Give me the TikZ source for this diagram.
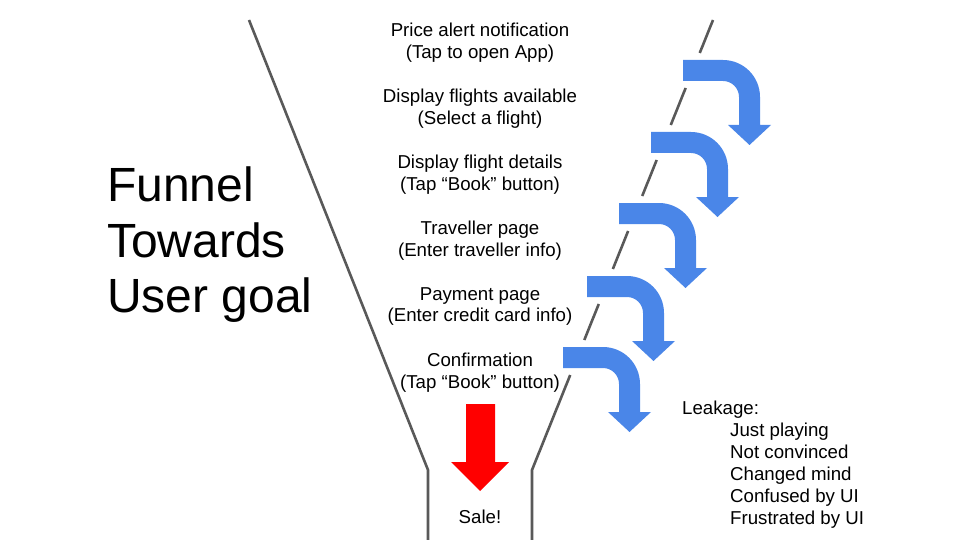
\documentclass[tikz,border=0pt]{standalone}
\usepackage{fontspec}
\setmainfont{Liberation Sans}
\usetikzlibrary{calc}
\definecolor{funnelgray}{RGB}{89,89,89}
\definecolor{leakblue}{RGB}{74,134,232}
\definecolor{salered}{RGB}{255,0,0}

\begin{document}
\begin{tikzpicture}[x=1pt, y=-1pt,
    funnel/.style={line width=2.6pt, funnelgray},
    steptext/.style={align=center, inner sep=0pt, font={\fontsize{18.67}{21.5}\selectfont}},
    leaktext/.style={anchor=base west, inner sep=0pt, font={\fontsize{18.67}{22}\selectfont}}]
    \useasboundingbox (0,0) rectangle (960,540);

    % Title
    \node[anchor=north west, align=left, inner sep=0pt,
          font={\fontsize{48}{55.5}\selectfont}] (title) at (107,167)
        {Funnel\\Towards\\User goal};

    % Funnel, left side
    \draw[funnel] (249,20) -- (428,470) -- (428,540);

    % Funnel, right side (broken where the leaks pass)
    \coordinate (rtop) at (713,20);
    \coordinate (rbot) at (532,470);
    \foreach \ya/\yb in {20/53, 88/125, 160/196, 231/269, 304/340} {
        \draw[funnel] ($(rtop)!{(\ya-20)/450}!(rbot)$) -- ($(rtop)!{(\yb-20)/450}!(rbot)$);
    }
    \draw[funnel] ($(rtop)!{355/450}!(rbot)$) -- (rbot) -- (532,540);

    % Steps
    \foreach \txt [count=\i] in {
        {Price alert notification\\(Tap to open App)},
        {Display flights available\\(Select a flight)},
        {Display flight details\\(Tap “Book” button)},
        {Traveller page\\(Enter traveller info)},
        {Payment page\\(Enter credit card info)},
        {Confirmation\\(Tap “Book” button)}} {
        \node[steptext] (step\i) at (480, {42.5+66*(\i-1)}) {\txt};
    }

    % Leaks
    \foreach \L/\T in {683/60, 651/132, 619/203, 587/276, 563/347} {
        \pgfmathsetmacro{\R}{\L+77}
        \fill[leakblue] (\L,\T) -- ({\R-37},\T)
            arc[start angle=90, end angle=0, radius=37pt]
            -- (\R,{\T+65}) -- ({\R+11},{\T+65}) -- ({\R-10.5},{\T+85})
            -- ({\R-32},{\T+65}) -- ({\R-21},{\T+65}) -- ({\R-21},{\T+37})
            arc[start angle=0, end angle=90, radius=16pt]
            -- (\L,{\T+21}) -- cycle;
    }

    % Sale
    \fill[salered] (466,404) -- (495,404) -- (495,462) -- (509,462)
        -- (480,491) -- (451,462) -- (466,462) -- cycle;
    \node[anchor=base, inner sep=0pt, font={\fontsize{18.67}{22}\selectfont}] (sale) at (480,523) {Sale!};

    % Leakage reasons
    \node[leaktext] (leak) at (682,414) {Leakage:};
    \foreach \r [count=\i] in {Just playing, Not convinced, Changed mind,
                               Confused by UI, Frustrated by UI} {
        \node[leaktext] (reason\i) at (730, {414+22*\i}) {\r};
    }
\end{tikzpicture}
\end{document}
